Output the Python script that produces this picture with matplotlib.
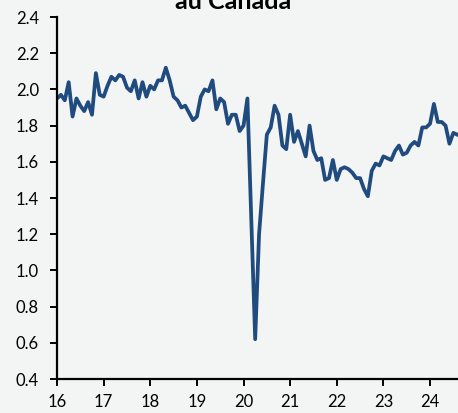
import numpy as np
import matplotlib
matplotlib.use("Agg")
import matplotlib.pyplot as plt

# monthly values, Jan 2016 onward
vals_2016 = [1.95, 1.97, 1.94, 2.04, 1.85, 1.95, 1.91, 1.88, 1.93, 1.86, 2.09, 1.97]
vals_2017 = [1.96, 2.02, 2.07, 2.05, 2.08, 2.07, 2.01, 1.99, 2.05, 1.95, 2.04, 1.96]
vals_2018 = [2.02, 2.00, 2.05, 2.05, 2.12, 2.05, 1.96, 1.94, 1.90, 1.91, 1.87, 1.83]
vals_2019 = [1.85, 1.96, 2.00, 1.99, 2.05, 1.89, 1.95, 1.93, 1.81, 1.86, 1.86, 1.77]
vals_2020 = [1.80, 1.95, 1.28, 0.62, 1.20, 1.48, 1.75, 1.79, 1.91, 1.86, 1.69, 1.67]
vals_2021 = [1.86, 1.71, 1.77, 1.70, 1.63, 1.80, 1.66, 1.61, 1.62, 1.50, 1.51, 1.61]
vals_2022 = [1.50, 1.56, 1.57, 1.56, 1.54, 1.51, 1.51, 1.45, 1.41, 1.55, 1.59, 1.58]
vals_2023 = [1.63, 1.62, 1.61, 1.66, 1.69, 1.64, 1.65, 1.69, 1.71, 1.69, 1.79, 1.79]
vals_2024 = [1.81, 1.92, 1.82, 1.82, 1.80, 1.70, 1.76, 1.75]

values = np.array(vals_2016 + vals_2017 + vals_2018 + vals_2019 + vals_2020
                  + vals_2021 + vals_2022 + vals_2023 + vals_2024)
x = 16 + np.arange(len(values)) / 12.0

year_ticks = [16, 17, 18, 19, 20, 21, 22, 23, 24]
y_ticks = [0.4, 0.6, 0.8, 1.0, 1.2, 1.4, 1.6, 1.8, 2.0, 2.2, 2.4]

bg = '#f3f4f4'
line_color = '#1f4b7f'

plt.rcParams['font.family'] = ['Lato', 'DejaVu Sans']

fig = plt.figure(figsize=(4.58, 4.13), dpi=100, facecolor=bg)
ax = fig.add_axes([0.1245, 0.0823, 0.8755, 0.8765], facecolor=bg)

ax.plot(x, values, color=line_color, lw=2.7, solid_joinstyle='round')

ax.set_xlim(16, 24.6)
ax.set_ylim(0.4, 2.4)
ax.set_xticks(year_ticks)
ax.set_xticklabels([str(t) for t in year_ticks])
ax.set_yticks(y_ticks)
ax.set_yticklabels(['%.1f' % t for t in y_ticks])

for s in ['top', 'right']:
    ax.spines[s].set_visible(False)
for s in ['left', 'bottom']:
    ax.spines[s].set_linewidth(1.6)
    ax.spines[s].set_color('black')

ax.tick_params(axis='both', length=5, width=1.4, labelsize=12, colors='black')
ax.tick_params(axis='y', pad=8)
ax.tick_params(axis='x', pad=6)

# second line of the title, top part falls outside the picture
fig.text(0.509, 0.978, 'au Canada', ha='center', va='baseline',
         fontsize=18, fontweight='bold')

fig.savefig('out.png', dpi=100, facecolor=bg)
